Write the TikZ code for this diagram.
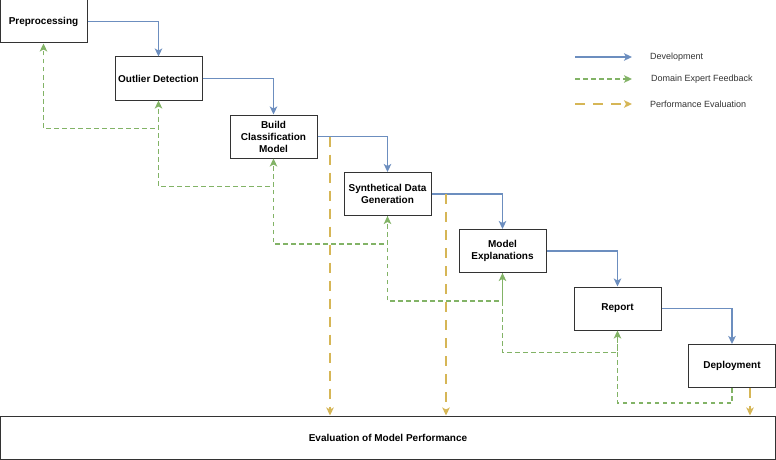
\documentclass[tikz,border=0pt]{standalone}
\usepackage{fontspec}
\setmainfont{Liberation Sans}
\usetikzlibrary{arrows.meta}
\definecolor{devblue}{HTML}{6C8EBF}
\definecolor{fbgreen}{HTML}{82B366}
\definecolor{peyellow}{HTML}{D6B656}
\definecolor{boxgray}{HTML}{333333}
\tikzset{
  stage/.style={draw=boxgray, line width=1pt, fill=white, minimum width=87pt, minimum height=43pt,
    inner sep=1pt, align=center, font=\fontsize{10}{12}\selectfont\bfseries},
  tip/.style={-{Stealth[length=8pt,width=7.5pt,inset=2pt]}},
  dev/.style={tip, draw=devblue, line width=1.3pt},
  fb/.style={tip, draw=fbgreen, line width=1.3pt, dash pattern=on 4.5pt off 3.5pt},
  pe/.style={tip, draw=peyellow, line width=1.3pt, dash pattern=on 10pt off 8pt},
  legtext/.style={anchor=west, inner sep=0pt, font=\fontsize{9}{11}\selectfont, text=black!80}
}
\begin{document}
\begin{tikzpicture}[x=1pt,y=-1pt]
\useasboundingbox (0,0) rectangle (776,460);
\fill[white] (0,0) rectangle (776,460);

\node[stage] (pre)   at (43.5,21.5)  {Preprocessing};
\node[stage] (out)   at (158.5,78.5) {Outlier Detection};
\node[stage] (build) at (273.5,136.5) {Build\\Classification\\Model};
\node[stage] (syn)   at (387.5,194)  {Synthetical Data\\Generation};
\node[stage] (mod)   at (502.5,251)  {Model\\Explanations};
\node[stage] (rep)   at (617.5,308.5) {Report};
\node[stage] (dep)   at (732,366)    {Deployment};
\node[stage, minimum width=775pt, minimum height=43pt] (eval) at (388,437.5) {Evaluation of Model Performance};

% development flow
\draw[dev] (pre.east) -| (out.north);
\draw[dev] (out.east) -| (build.north);
\draw[dev] (build.east) -| (syn.north);
\draw[dev] (syn.east) -| (mod.north);
\draw[dev] (mod.east) -| (rep.north);
\draw[dev] (rep.east) -| (dep.north);

% domain expert feedback
\draw[fb] (out.south) -- ++(0,28) -| (pre.south);
\draw[fb] (build.south) -- ++(0,28) -| (out.south);
\draw[fb] (syn.south) -- ++(0,28) -| (build.south);
\draw[fb] (mod.south) -- ++(0,28) -| (syn.south);
\draw[fb] (rep.south) -- ++(0,22) -| (mod.south);
\draw[fb] (dep.south) -- ++(0,15) -| (rep.south);

% performance evaluation
\coordinate (pe1) at (330,136.5);
\coordinate (pe2) at (446,194);
\coordinate (pe3) at (750,387.5);
\draw[pe] (pe1) -- (pe1 |- eval.north);
\draw[pe] (pe2) -- (pe2 |- eval.north);
\draw[pe] (pe3) -- (pe3 |- eval.north);

% legend
\coordinate (la1) at (575,57);  \coordinate (lb1) at (632,57);
\coordinate (la2) at (575,79);  \coordinate (lb2) at (632,79);
\coordinate (la3) at (575,104); \coordinate (lb3) at (632,104);
\draw[dev] (la1) -- (lb1);
\draw[fb] (la2) -- (lb2);
\draw[pe] (la3) -- (lb3);
\node[legtext] (t1) at (650,57)  {Development};
\node[legtext] (t2) at (651,79)  {Domain Expert Feedback};
\node[legtext] (t3) at (650,104) {Performance Evaluation};
\end{tikzpicture}
\end{document}
